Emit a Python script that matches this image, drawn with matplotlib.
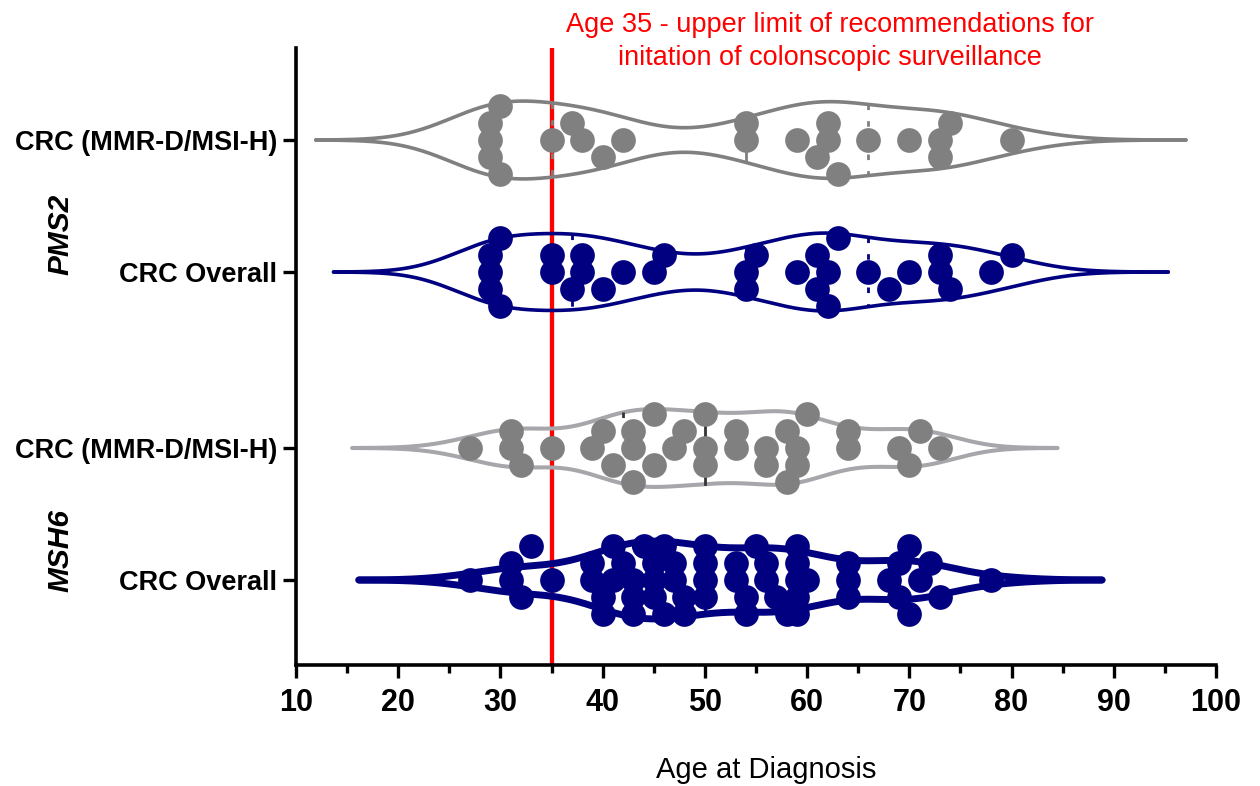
import numpy as np
import matplotlib
matplotlib.use("Agg")
import matplotlib.pyplot as plt

plt.rcParams['font.family'] = ['Liberation Sans', 'DejaVu Sans']

# ---------------- data (age at diagnosis) ----------------
row_labels = ["CRC (MMR-D/MSI-H)", "CRC Overall", "CRC (MMR-D/MSI-H)", "CRC Overall"]
gene_labels = ["PMS2", "MSH6"]

pms2_mmr = [29, 29, 29, 30, 30, 35, 37, 38, 40, 42, 54, 54, 59, 61, 62, 62, 63,
            66, 70, 73, 73, 74, 80]
pms2_all = [29, 29, 29, 30, 30, 35, 35, 37, 38, 38, 40, 42, 45, 46, 54, 54, 55,
            59, 61, 61, 62, 62, 63, 66, 68, 70, 73, 73, 74, 78, 80]
msh6_mmr = [27, 31, 31, 32, 35, 39, 40, 41, 43, 43, 43, 45, 45, 47, 48, 50, 50,
            50, 53, 53, 56, 56, 58, 58, 59, 59, 60, 64, 64, 69, 70, 71, 73]
msh6_all = [27, 31, 31, 32, 33, 35, 39, 39, 40, 40, 41, 41, 42, 43, 43, 43, 44,
            45, 45, 45, 46, 46, 47, 47, 48, 48, 50, 50, 50, 50, 53, 53, 54, 54,
            55, 56, 56, 57, 58, 59, 59, 59, 59, 59, 60, 64, 64, 64, 68, 69, 69,
            70, 70, 71, 72, 73, 78]

threshold_age = 35
threshold_text = ("Age 35 - upper limit of recommendations for\n"
                  "initation of colonscopic surveillance")
x_ticks = list(range(10, 101, 10))

series = [pms2_mmr, pms2_all, msh6_mmr, msh6_all]

# ---------------- styles ----------------
GREY = "#808080"
NAVY = "#000080"
styles = [
    dict(dot=GREY, line=GREY, qcol=GREY, lw=2.6, bwf=0.5, cutf=3.47),
    dict(dot=NAVY, line=NAVY, qcol=NAVY, lw=2.6, bwf=0.5, cutf=3.47),
    dict(dot=GREY, line="#A6A6AB", qcol="#333333", lw=2.9, bwf=0.55, cutf=3.2),
    dict(dot=NAVY, line=NAVY, qcol=NAVY, lw=5.0, bwf=0.66, cutf=2.85),
]

# row positions: two groups of two rows, extra gap between groups
positions = [0.0, 1.0, 2 + 1 / 3, 3 + 1 / 3]

W, H = 1260, 786
fig = plt.figure(figsize=(W / 100, H / 100), dpi=100)
ax_l, ax_r, ax_t, ax_b = 296, 1216, 48, 665
ax = fig.add_axes([ax_l / W, 1 - ax_b / H, (ax_r - ax_l) / W, (ax_b - ax_t) / H])

xmin, xmax = 10, 100
row_px = 132.0
ytop = (ax_t - 140) / row_px
ybot = (ax_b - 140) / row_px
ax.set_xlim(xmin, xmax)
ax.set_ylim(ybot, ytop)

px_per_x = (ax_r - ax_l) / (xmax - xmin)
px_per_y = row_px

MAX_HW = 0.295
ROW_STEP = 17.0      # vertical spacing of swarm rows, px
SAME_ROW_GAP = 22.0  # min horizontal gap between dots sharing a row, px
MAX_ROW = 2


def swarm(vals):
    xs = np.sort(np.asarray(vals, float))
    rows = {}
    offs = []
    for x in xs:
        xp = x * px_per_x
        order = [0]
        for m in range(1, MAX_ROW + 1):
            up = sum(len(rows.get(-j, [])) for j in range(1, m + 1))
            dn = sum(len(rows.get(j, [])) for j in range(1, m + 1))
            order += [-m, m] if up <= dn else [m, -m]
        chosen = None
        for r in order:
            if all(abs(xp - q) >= SAME_ROW_GAP for q in rows.get(r, [])):
                chosen = r
                break
        if chosen is None:
            best = -1
            for r in order:
                d = min(abs(xp - q) for q in rows.get(r, []))
                if d > best + 1e-9:
                    best, chosen = d, r
        rows.setdefault(chosen, []).append(xp)
        offs.append(chosen * ROW_STEP)
    return xs, np.array(offs) / px_per_y


# threshold line
ax.axvline(threshold_age, color="#FF0000", lw=3.1, zorder=1)

for vals, pos, st in zip(series, positions, styles):
    v = np.asarray(vals, float)
    n = len(v)
    bw = st["bwf"] * 1.06 * v.std(ddof=1) * n ** (-0.2)
    cut = st["cutf"] * bw
    g = np.linspace(v.min() - cut, v.max() + cut, 600)
    dens = np.exp(-0.5 * ((g[:, None] - v[None, :]) / bw) ** 2).sum(axis=1)
    hw = dens / dens.max() * MAX_HW
    ax.plot(g, pos - hw, color=st["line"], lw=st["lw"], solid_capstyle="round",
            zorder=2)
    ax.plot(g, pos + hw, color=st["line"], lw=st["lw"], solid_capstyle="round",
            zorder=2)
    q1, med, q3 = np.quantile(v, [0.25, 0.5, 0.75], method="weibull")
    for q, ls in ((q1, (0, (2.0, 4.0))), (med, "-"), (q3, (0, (2.0, 4.0)))):
        h = np.interp(q, g, hw)
        ax.plot([q, q], [pos - h, pos + h], color=st["qcol"], lw=2.0, ls=ls,
                zorder=3)
    xs, offs = swarm(vals)
    ax.plot(xs, pos + offs, "o", ls="none", color=st["dot"], ms=17.8, mew=0,
            zorder=4)

# axes styling
for s in ("top", "right"):
    ax.spines[s].set_visible(False)
for s in ("left", "bottom"):
    ax.spines[s].set_linewidth(2.6)
    ax.spines[s].set_color("black")

ax.set_xticks(x_ticks)
ax.set_xticklabels([str(t) for t in x_ticks], fontsize=22, fontweight="bold")
ax.set_xticks(np.arange(15, 100, 10), minor=True)
ax.tick_params(axis="x", which="major", length=9.5, width=2.4, pad=7)
ax.tick_params(axis="x", which="minor", length=5.8, width=2.4)
ax.set_yticks(positions)
ax.set_yticklabels(row_labels, fontsize=19.5, fontweight="bold")
ax.tick_params(axis="y", length=9.5, width=2.4, pad=4)

ax.set_xlabel("Age at Diagnosis", fontsize=21, va="center")
ax.xaxis.set_label_coords((766 - ax_l) / (ax_r - ax_l), -(770 - ax_b) / (ax_b - ax_t))

fig.text(60 / W, 1 - 234 / H, gene_labels[0], rotation=90, fontsize=21.5,
         fontweight="bold", fontstyle="italic", ha="center", va="center")
fig.text(60 / W, 1 - 551 / H, gene_labels[1], rotation=90, fontsize=21.5,
         fontweight="bold", fontstyle="italic", ha="center", va="center")

fig.text(830 / W, 1 - 41.5 / H, threshold_text, color="#FF0000", fontsize=19.5,
         ha="center", va="center", multialignment="center", linespacing=1.32)

fig.savefig("out.png", dpi=100)
